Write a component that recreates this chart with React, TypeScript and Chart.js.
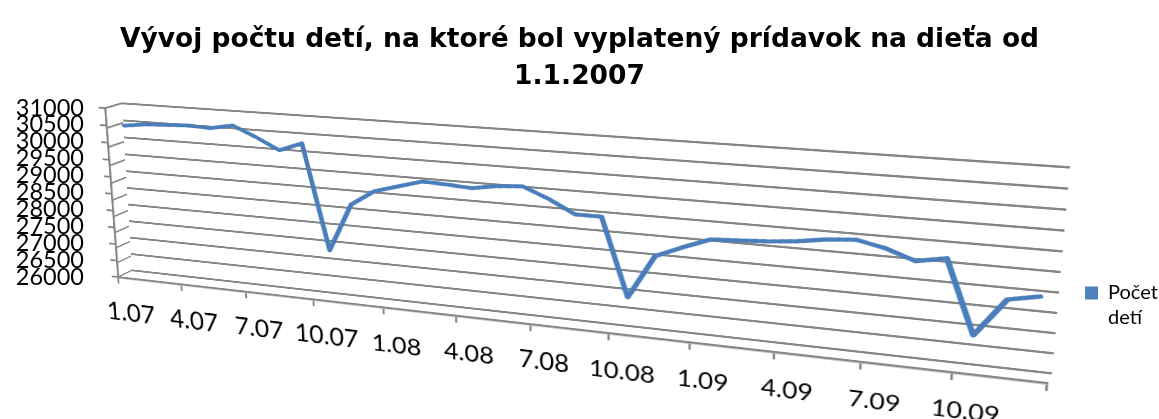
import React, { useEffect, useRef } from 'react';
import { Chart, registerables } from 'chart.js';

Chart.register(...registerables);

// ---------- data ----------
const titleLines = ['Vývoj počtu detí, na ktoré bol vyplatený prídavok na dieťa od', '1.1.2007'];
const seriesLabel = 'Počet detí';
const legendLines = ['Počet', 'detí'];
const months = [
  '1.07', '2.07', '3.07', '4.07', '5.07', '6.07', '7.07', '8.07', '9.07', '10.07', '11.07', '12.07',
  '1.08', '2.08', '3.08', '4.08', '5.08', '6.08', '7.08', '8.08', '9.08', '10.08', '11.08', '12.08',
  '1.09', '2.09', '3.09', '4.09', '5.09', '6.09', '7.09', '8.09', '9.09', '10.09', '11.09', '12.09',
];
const childCounts = [
  30420, 30500, 30530, 30560, 30530, 30650, 30370, 30050, 30290, 27330, 28690, 29120,
  29310, 29500, 29470, 29430, 29540, 29590, 29310, 28960, 28960, 26880, 28050, 28350,
  28620, 28660, 28700, 28770, 28880, 28940, 28790, 28540, 28680, 26840, 27810, 27960,
];
const yTicks = [26000, 26500, 27000, 27500, 28000, 28500, 29000, 29500, 30000, 30500, 31000];
const labelEvery = 3;

// ---------- style / layout ----------
const FONT = 'Lato, "Open Sans", sans-serif';
const TITLE_FONT = '"DejaVu Sans", "Open Sans", sans-serif';
const GRID = '#868686';
const LINE = '#4a7ebb';
const BOX = '#4f81bd';
const Y_MIN = yTicks[0];
const Y_MAX = yTicks[yTicks.length - 1];
const W = 1159;
const H = 419;

type Pt = [number, number];
// target quadrilaterals (page coordinates) of the plot planes: TL, TR, BR, BL
const backQuad: Pt[] = [[122, 103], [1070, 167], [1052, 373], [132, 270]];
const midQuad: Pt[] = [[112, 104.8], [1067, 170.2], [1049.5, 377.6], [125, 273.1]];
const frontQuad: Pt[] = [[105, 108], [1064, 174], [1047, 383], [118, 277]];
const sideQuad: Pt[] = [[105, 108], [122, 103], [132, 270], [118, 277]];

function solve(A: number[][], b: number[]): number[] {
  const n = b.length;
  const M = A.map((row, i) => [...row, b[i]]);
  for (let col = 0; col < n; col++) {
    let piv = col;
    for (let r = col + 1; r < n; r++) if (Math.abs(M[r][col]) > Math.abs(M[piv][col])) piv = r;
    const tmp = M[col]; M[col] = M[piv]; M[piv] = tmp;
    for (let r = 0; r < n; r++) {
      if (r === col) continue;
      const f = M[r][col] / M[col][col];
      for (let k = col; k <= n; k++) M[r][k] -= f * M[col][k];
    }
  }
  return M.map((row, i) => row[n] / row[i]);
}

function homography(src: Pt[], dst: Pt[]): number[] {
  const A: number[][] = [];
  const b: number[] = [];
  for (let i = 0; i < 4; i++) {
    const [x, y] = src[i];
    const [u, v] = dst[i];
    A.push([x, y, 1, 0, 0, 0, -x * u, -y * u]); b.push(u);
    A.push([0, 0, 0, x, y, 1, -x * v, -y * v]); b.push(v);
  }
  return solve(A, b);
}

function applyH(h: number[], x: number, y: number): Pt {
  const w = h[6] * x + h[7] * y + 1;
  return [(h[0] * x + h[1] * y + h[2]) / w, (h[3] * x + h[4] * y + h[5]) / w];
}

function warp(chart: Chart, quad: Pt[]): number[] {
  const { left, top, right, bottom } = chart.chartArea;
  const h = homography([[left, top], [right, top], [right, bottom], [left, bottom]], quad);
  const c = chart.canvas as HTMLCanvasElement;
  c.style.transformOrigin = '0 0';
  c.style.transform = `matrix3d(${h[0]},${h[3]},0,${h[6]},${h[1]},${h[4]},0,${h[7]},0,0,1,0,${h[2]},${h[5]},0,1)`;
  return h;
}

const setYTicks = (axis: any) => {
  axis.ticks = yTicks.map((v) => ({ value: v }));
};

const quiet = {
  legend: { display: false },
  title: { display: false },
  tooltip: { enabled: false },
};

function gridOnlyChart(canvas: HTMLCanvasElement, lineWidth: number) {
  return new Chart(canvas, {
    type: 'line',
    data: { labels: months, datasets: [] },
    options: {
      responsive: false,
      animation: false,
      events: [],
      layout: { padding: 20 },
      plugins: quiet as any,
      scales: {
        x: { display: false, offset: true },
        y: {
          min: Y_MIN,
          max: Y_MAX,
          afterBuildTicks: setYTicks,
          afterFit: (s: any) => { s.width = 0; },
          ticks: { display: false },
          border: { display: false },
          grid: { color: GRID, lineWidth, drawTicks: false },
        },
      },
    } as any,
  });
}

export default function App() {
  const flatRef = useRef<HTMLCanvasElement>(null);
  const sideRef = useRef<HTMLCanvasElement>(null);
  const backRef = useRef<HTMLCanvasElement>(null);
  const midRef = useRef<HTMLCanvasElement>(null);
  const frontRef = useRef<HTMLCanvasElement>(null);

  useEffect(() => {
    const charts: Chart[] = [];

    // flat layer: title, legend, value-axis labels
    charts.push(new Chart(flatRef.current!, {
      type: 'line',
      data: { labels: months, datasets: [] },
      options: {
        responsive: false,
        animation: false,
        events: [],
        layout: { padding: { left: 0, right: 0, top: 0, bottom: 76 } },
        plugins: {
          title: {
            display: true,
            text: titleLines,
            color: '#000',
            font: { family: TITLE_FONT, size: 26.5, weight: 'bold', lineHeight: 37 / 26.5 },
            padding: { top: 21.5, bottom: 12.5 },
          },
          legend: {
            display: true,
            position: 'right',
            align: 'end',
            maxWidth: 84,
            labels: {
              color: '#000',
              font: { family: FONT, size: 20, lineHeight: 1.25 },
              boxWidth: 13,
              boxHeight: 13,
              padding: 10,
              generateLabels: () => [{
                text: legendLines as any,
                fillStyle: BOX,
                strokeStyle: BOX,
                fontColor: '#000',
                lineWidth: 0,
                hidden: false,
                datasetIndex: 0,
              }],
            },
          },
          tooltip: { enabled: false },
        },
        scales: {
          x: { display: false },
          y: {
            min: 24047,
            max: Y_MAX,
            afterBuildTicks: setYTicks,
            afterFit: (s: any) => { s.width = 92; },
            border: { display: false },
            grid: { display: false, drawTicks: false },
            ticks: {
              autoSkip: false,
              color: '#000',
              font: { family: FONT, size: 23.5 },
              padding: 8,
              callback: (v: any) => String(v),
            },
          },
        },
      } as any,
    }));

    // left side wall and back wall grid
    const side = gridOnlyChart(sideRef.current!, 2.4);
    warp(side, sideQuad);
    charts.push(side);
    const back = gridOnlyChart(backRef.current!, 2.9);
    warp(back, backQuad);
    charts.push(back);

    // the data line
    const mid = new Chart(midRef.current!, {
      type: 'line',
      data: {
        labels: months,
        datasets: [{
          label: seriesLabel,
          data: childCounts,
          borderColor: LINE,
          backgroundColor: LINE,
          borderWidth: 5.5,
          borderJoinStyle: 'round',
          borderCapStyle: 'round',
          pointRadius: 0,
          tension: 0,
          fill: false,
        }],
      },
      options: {
        responsive: false,
        animation: false,
        events: [],
        layout: { padding: 20 },
        plugins: quiet as any,
        scales: {
          x: { display: false, offset: true },
          y: { display: false, min: Y_MIN, max: Y_MAX },
        },
      } as any,
    });
    warp(mid, midQuad);
    charts.push(mid);

    // front edges: value axis line, category axis with labels
    let frontH: number[] | null = null;
    const xLabelFont = (c: any) => {
      const base = 24.5;
      if (!frontH || typeof c.index !== 'number' || !c.scale) return { family: FONT, size: base };
      const px = c.scale.getPixelForTick(c.index);
      const py = c.scale.top + 36;
      if (!isFinite(px) || !isFinite(py)) return { family: FONT, size: base };
      const p0 = applyH(frontH, px, py);
      const p1 = applyH(frontH, px + 1, py);
      const p2 = applyH(frontH, px, py + 1);
      const det = Math.abs((p1[0] - p0[0]) * (p2[1] - p0[1]) - (p1[1] - p0[1]) * (p2[0] - p0[0]));
      return { family: FONT, size: base / Math.sqrt(det || 1) };
    };
    const front = new Chart(frontRef.current!, {
      type: 'line',
      data: { labels: months, datasets: [] },
      options: {
        responsive: false,
        animation: false,
        events: [],
        layout: { padding: { left: 20, right: 20, top: 20, bottom: 0 } },
        plugins: quiet as any,
        scales: {
          x: {
            offset: true,
            afterFit: (s: any) => { s.height = 80; },
            border: { display: true, color: GRID, width: 2.6 },
            grid: {
              offset: true,
              drawOnChartArea: false,
              drawTicks: true,
              tickLength: 8,
              lineWidth: 2.2,
              color: GRID,
              tickColor: (c: any) => (typeof c.index !== 'number' || c.index % labelEvery === 0 ? GRID : 'rgba(0,0,0,0)'),
            },
            ticks: {
              autoSkip: false,
              maxRotation: 0,
              minRotation: 0,
              padding: 17,
              color: '#000',
              font: xLabelFont,
              callback: (_v: any, i: number) => (i % labelEvery === 0 ? months[i] : ''),
            },
          },
          y: {
            min: Y_MIN,
            max: Y_MAX,
            afterBuildTicks: setYTicks,
            afterFit: (s: any) => { s.width = 8; },
            ticks: { display: false },
            border: { display: true, color: GRID, width: 2.6 },
            grid: { drawOnChartArea: false, drawTicks: true, tickLength: 8, color: GRID, lineWidth: 2.2 },
          },
        },
      } as any,
    });
    frontH = warp(front, frontQuad);
    front.update('none');
    frontH = warp(front, frontQuad);
    charts.push(front);

    return () => charts.forEach((ch) => ch.destroy());
  }, []);

  const abs: React.CSSProperties = { position: 'absolute', left: 0, top: 0 };
  return (
    <div style={{ position: 'absolute', left: 0, top: 0, width: W, height: H, overflow: 'hidden' }}>
      <canvas ref={flatRef} width={W} height={H} style={abs} />
      <canvas ref={sideRef} width={200} height={300} style={abs} />
      <canvas ref={backRef} width={1000} height={300} style={abs} />
      <canvas ref={midRef} width={1000} height={300} style={abs} />
      <canvas ref={frontRef} width={1000} height={300} style={abs} />
    </div>
  );
}
